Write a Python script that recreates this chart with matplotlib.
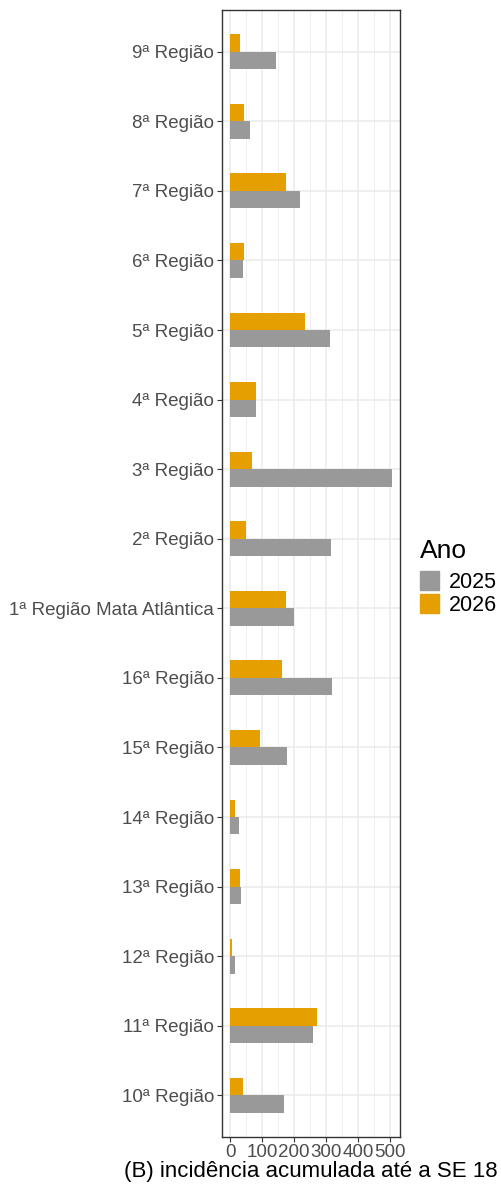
import numpy as np
import matplotlib.pyplot as plt
from matplotlib.patches import Patch

# ---------------- DATA ----------------
REGIOES = ["10ª Região", "11ª Região", "12ª Região", "13ª Região", "14ª Região",
           "15ª Região", "16ª Região", "1ª Região Mata Atlântica", "2ª Região",
           "3ª Região", "4ª Região", "5ª Região", "6ª Região", "7ª Região",
           "8ª Região", "9ª Região"]
INC_2025 = [169, 259, 16, 35, 29, 178, 318, 200, 315, 504, 82, 311, 41, 218, 63, 144]
INC_2026 = [41, 271, 7, 32, 16, 94, 162, 175, 51, 69, 82, 234, 44, 175, 44, 32]
X_TICKS = [0, 100, 200, 300, 400, 500]
COR_2025 = "#999999"
COR_2026 = "#E69F00"
# ----------------------------------------

plt.rcParams['font.family'] = ['Liberation Sans', 'DejaVu Sans']

fig = plt.figure(figsize=(5.01, 11.88), dpi=100)
ax = fig.add_axes([0.443, 0.0429, 0.355, 0.9487])

y = np.arange(1, len(REGIOES) + 1)
bw = 0.25
ax.barh(y - bw / 2, INC_2025, height=bw, color=COR_2025, zorder=3)
ax.barh(y + bw / 2, INC_2026, height=bw, color=COR_2026, zorder=3)

ax.set_xlim(-25.2, 529.2)
ax.set_ylim(0.4, len(REGIOES) + 0.6)

# grid, theme_bw style
ax.set_xticks(X_TICKS)
ax.set_xticks([50, 150, 250, 350, 450], minor=True)
ax.set_yticks(y)
ax.set_yticklabels(REGIOES)
ax.grid(which='major', color='#EBEBEB', lw=1.1, zorder=0)
ax.grid(which='minor', axis='x', color='#EBEBEB', lw=0.55, zorder=0)
ax.tick_params(axis='both', which='major', colors='#333333', length=3.5, width=0.8,
               labelcolor='#4D4D4D', labelsize=13.5, pad=2.0)
ax.tick_params(axis='x', which='major', pad=1.5)
ax.tick_params(axis='both', which='minor', length=0)
for s in ax.spines.values():
    s.set_color('#333333')
    s.set_linewidth(1.0)

ax.set_xlabel("(B) incidência acumulada até a SE 18", fontsize=16, color='black', labelpad=0)

handles = [Patch(color=COR_2025, label="2025"), Patch(color=COR_2026, label="2026")]
leg = fig.legend(handles=handles, title="Ano", loc='upper left', bbox_to_anchor=(0.834, 0.548),
                 frameon=False, fontsize=15.5, title_fontsize=19, handlelength=0.9,
                 handleheight=0.95, handletextpad=0.45, labelspacing=0.05, borderpad=0.1,
                 borderaxespad=0)
leg._legend_box.align = "left"
leg._legend_box.sep = 6

fig.savefig("out.png", dpi=100)
